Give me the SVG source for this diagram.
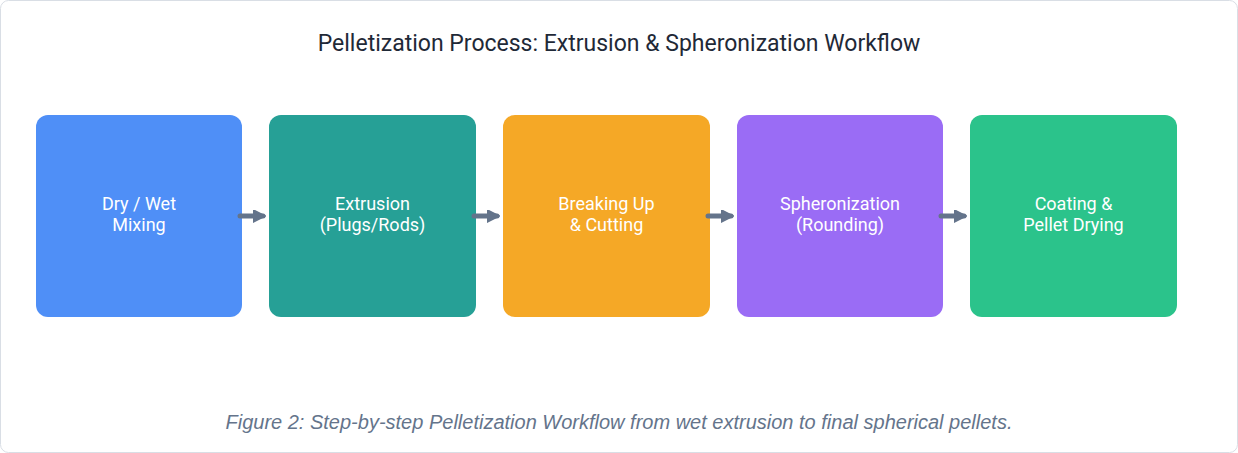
<svg xmlns="http://www.w3.org/2000/svg" width="1238" height="453" viewBox="0 0 1238 453">
<style>
.t{font-family:Roboto,"Noto Sans",sans-serif;font-size:18px;fill:#fff;text-anchor:middle}
.c{stroke:#64748b;stroke-width:5;stroke-linecap:round;fill:none}
</style>
<defs><marker id="a" viewBox="0 0 10 10" refX="8" refY="5" markerWidth="2.6" markerHeight="2.6" orient="auto"><path d="M0,0 L10,5 L0,10 z" fill="#64748b" stroke="#64748b" stroke-linejoin="round"/></marker></defs>
<rect x="0.5" y="0.5" width="1237" height="452" rx="8" fill="#fff" stroke="#d9dee5"/>
<text x="619" y="51" style="font-family:Roboto,sans-serif;font-size:23px;fill:#1f2937;text-anchor:middle">Pelletization Process: Extrusion &amp; Spheronization Workflow</text>
<g id="n1"><rect x="36" y="115" width="206" height="202" rx="12" fill="#4f8ff7"/><text class="t" x="139" y="210">Dry / Wet</text><text class="t" x="139" y="231">Mixing</text></g>
<g id="n2"><rect x="269" y="115" width="207" height="202" rx="12" fill="#26a096"/><text class="t" x="372.5" y="210">Extrusion</text><text class="t" x="372.5" y="231">(Plugs/Rods)</text></g>
<g id="n3"><rect x="503" y="115" width="207" height="202" rx="12" fill="#f5a826"/><text class="t" x="606.5" y="210">Breaking Up</text><text class="t" x="606.5" y="231">&amp; Cutting</text></g>
<g id="n4"><rect x="737" y="115" width="206" height="202" rx="12" fill="#9a6cf5"/><text class="t" x="840" y="210">Spheronization</text><text class="t" x="840" y="231">(Rounding)</text></g>
<g id="n5"><rect x="970" y="115" width="207" height="202" rx="12" fill="#2bc38b"/><text class="t" x="1073.5" y="210">Coating &amp;</text><text class="t" x="1073.5" y="231">Pellet Drying</text></g>
<g id="connectors">
<path class="c" d="M240,216 H263" marker-end="url(#a)"/>
<path class="c" d="M474,216 H497" marker-end="url(#a)"/>
<path class="c" d="M708,216 H731" marker-end="url(#a)"/>
<path class="c" d="M941,216 H964" marker-end="url(#a)"/>
</g>
<text x="619" y="429" style="font-family:'Liberation Sans',Arial,sans-serif;font-size:20px;font-style:italic;fill:#64748b;text-anchor:middle">Figure 2: Step-by-step Pelletization Workflow from wet extrusion to final spherical pellets.</text>
</svg>
